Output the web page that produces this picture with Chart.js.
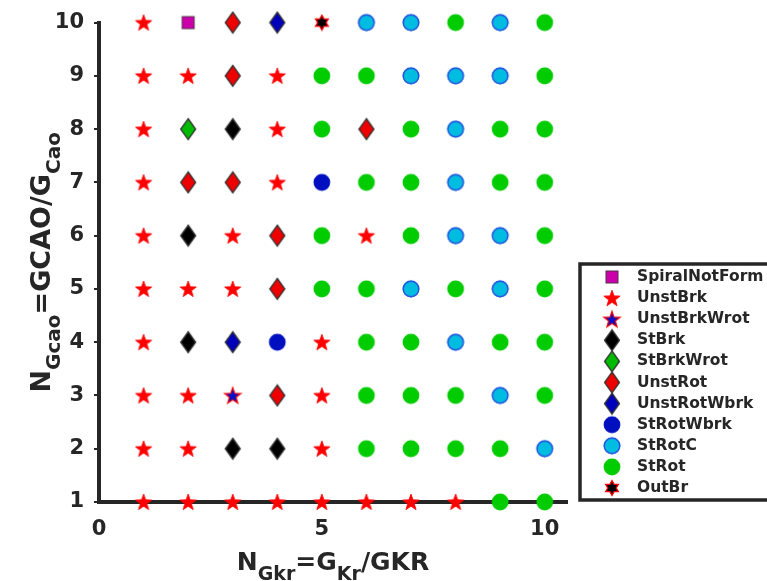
<!DOCTYPE html>
<html>
<head>
<meta charset="utf-8">
<script src="https://cdn.jsdelivr.net/npm/chart.js@4/dist/chart.umd.min.js"></script>
<style>
html,body{margin:0;padding:0;background:#fff;overflow:hidden}
#wrap{width:767px;height:581px;position:relative}
</style>
</head>
<body>
<div id="wrap"><canvas id="c" width="767" height="581"></canvas></div>
<script>
// ---- data ----
const categories = ['SpiralNotForm','UnstBrk','UnstBrkWrot','StBrk','StBrkWrot','UnstRot','UnstRotWbrk','StRotWbrk','StRotC','StRot','OutBr'];
const xValues = [1,2,3,4,5,6,7,8,9,10];          // N_Gkr
const yValues = [10,9,8,7,6,5,4,3,2,1];          // N_Gcao (row order)
const xTicks = [0,5,10];
const yTicks = [1,2,3,4,5,6,7,8,9,10];
// regime at each (x = 1..10) for a given y row
const row10 = ['UnstBrk','SpiralNotForm','UnstRot','UnstRotWbrk','OutBr','StRotC','StRotC','StRot','StRotC','StRot'];
const row9  = ['UnstBrk','UnstBrk','UnstRot','UnstBrk','StRot','StRot','StRotC','StRotC','StRotC','StRot'];
const row8  = ['UnstBrk','StBrkWrot','StBrk','UnstBrk','StRot','UnstRot','StRot','StRotC','StRot','StRot'];
const row7  = ['UnstBrk','UnstRot','UnstRot','UnstBrk','StRotWbrk','StRot','StRot','StRotC','StRot','StRot'];
const row6  = ['UnstBrk','StBrk','UnstBrk','UnstRot','StRot','UnstBrk','StRot','StRotC','StRotC','StRot'];
const row5  = ['UnstBrk','UnstBrk','UnstBrk','UnstRot','StRot','StRot','StRotC','StRot','StRotC','StRot'];
const row4  = ['UnstBrk','StBrk','UnstRotWbrk','StRotWbrk','UnstBrk','StRot','StRot','StRotC','StRot','StRot'];
const row3  = ['UnstBrk','UnstBrk','UnstBrkWrot','UnstRot','UnstBrk','StRot','StRot','StRot','StRotC','StRot'];
const row2  = ['UnstBrk','UnstBrk','StBrk','StBrk','UnstBrk','StRot','StRot','StRot','StRot','StRotC'];
const row1  = ['UnstBrk','UnstBrk','UnstBrk','UnstBrk','UnstBrk','UnstBrk','UnstBrk','UnstBrk','StRot','StRot'];
const rows = [row10,row9,row8,row7,row6,row5,row4,row3,row2,row1];

// ---- marker images ----
function mk(w,h,draw){const c=document.createElement('canvas');c.width=w;c.height=h;const g=c.getContext('2d');draw(g,w/2,h/2);return c;}
function starPath(g,cx,cy,n,R,r){g.beginPath();for(let i=0;i<2*n;i++){const a=-Math.PI/2+i*Math.PI/n;const rr=(i%2)?r:R;g.lineTo(cx+rr*Math.cos(a),cy+rr*Math.sin(a));}g.closePath();}
function diamond(fill){return mk(18,24,(g,cx,cy)=>{g.beginPath();g.moveTo(cx,cy-10.5);g.lineTo(cx+7.5,cy);g.lineTo(cx,cy+10.5);g.lineTo(cx-7.5,cy);g.closePath();g.fillStyle=fill;g.fill();g.lineWidth=1.3;g.strokeStyle='#333';g.stroke();});}
function circle(fill,stroke){return mk(20,20,(g,cx,cy)=>{g.beginPath();g.arc(cx,cy,8.4,0,Math.PI*2);g.fillStyle=fill;g.fill();if(stroke){g.lineWidth=1.4;g.strokeStyle=stroke;g.beginPath();g.arc(cx,cy,7.8,0,Math.PI*2);g.stroke();}});}
const markers = {
  SpiralNotForm: mk(16,16,(g,cx,cy)=>{g.fillStyle='#cc00aa';g.fillRect(cx-6,cy-6,12,12);g.lineWidth=1;g.strokeStyle='#50304a';g.strokeRect(cx-6,cy-6,12,12);}),
  UnstBrk: mk(20,20,(g,cx,cy)=>{starPath(g,cx,cy+0.7,5,8.6,3.5);g.fillStyle='#ff0000';g.fill();g.lineWidth=0.8;g.strokeStyle='#ff0000';g.stroke();}),
  UnstBrkWrot: mk(20,20,(g,cx,cy)=>{starPath(g,cx,cy+0.7,5,8.6,3.5);g.fillStyle='#0010cc';g.fill();g.lineWidth=1.2;g.strokeStyle='#ff0000';g.stroke();}),
  StBrk: diamond('#000000'),
  StBrkWrot: diamond('#00bb00'),
  UnstRot: diamond('#ee0000'),
  UnstRotWbrk: diamond('#0000bb'),
  StRotWbrk: circle('#0010c0',null),
  StRotC: circle('#00bce0','#2a4ee0'),
  StRot: circle('#00cc00',null),
  OutBr: mk(18,18,(g,cx,cy)=>{starPath(g,cx,cy,6,7.4,4.2);g.fillStyle='#000';g.fill();g.lineWidth=1.3;g.strokeStyle='#ff0000';g.stroke();})
};

// ---- datasets ----
const datasets = categories.map(cat=>({
  label: cat, data: [], pointStyle: markers[cat], pointRadius: 9, pointHoverRadius: 9,
  showLine: false, clip: false, backgroundColor: 'rgba(0,0,0,0)', borderColor: 'rgba(0,0,0,0)'
}));
rows.forEach((row,ri)=>row.forEach((cat,ci)=>{
  datasets[categories.indexOf(cat)].data.push({x:xValues[ci], y:yValues[ri]});
}));

const INK = '#262626';
const FONT = 'DejaVu Sans';

function drawRich(ctx, parts, mainSize, subSize, subDrop){
  let total = 0;
  const w = parts.map(p=>{ctx.font='bold '+(p.sub?subSize:mainSize)+'px "'+FONT+'"';const m=ctx.measureText(p.t).width;total+=m;return m;});
  let x = -total/2;
  parts.forEach((p,i)=>{ctx.font='bold '+(p.sub?subSize:mainSize)+'px "'+FONT+'"';ctx.fillText(p.t,x,p.sub?subDrop:0);x+=w[i];});
}

const xTitleParts = [{t:'N'},{t:'Gkr',sub:true},{t:'=G'},{t:'Kr',sub:true},{t:'/GKR'}];
const yTitleParts = [{t:'N'},{t:'Gcao',sub:true},{t:'=GCAO/G'},{t:'Cao',sub:true}];

const LEG_FONT = 15.5, LEG_PAD = 5.6, LEG_BOX = 34.5;

const customPlugin = {
  id: 'custom',
  beforeUpdate(chart){
    const lg = chart.legend;
    if(lg && !lg.__patched){
      const orig = lg.fit;
      lg.fit = function(){ orig.call(this); this.width = 200; };
      lg.__patched = true;
    }
  },
  afterLayout(chart){
    const lg = chart.legend;
    if(!lg) return;
    lg.left = 612 - LEG_PAD - LEG_BOX/2; lg.right = lg.left + 200;
    lg.top = 277 - LEG_PAD - LEG_FONT/2; lg.bottom = 581;
  },
  afterDraw(chart){
    const ctx = chart.ctx, ca = chart.chartArea;
    ctx.save();
    ctx.strokeStyle = INK; ctx.lineWidth = 3.5;
    ctx.strokeRect(580, 264, 230, 236);
    ctx.fillStyle = INK; ctx.textBaseline = 'alphabetic'; ctx.textAlign = 'left';
    ctx.save(); ctx.translate((ca.left+ca.right)/2, 570);
    drawRich(ctx, xTitleParts, 25, 19, 10);
    ctx.restore();
    ctx.save(); ctx.translate(50, (ca.top+ca.bottom)/2); ctx.rotate(-Math.PI/2);
    drawRich(ctx, yTitleParts, 27, 20, 10);
    ctx.restore();
    ctx.restore();
  }
};

new Chart(document.getElementById('c'), {
  type: 'scatter',
  data: { datasets },
  options: {
    responsive: false, animation: false, events: [],
    layout: { padding: { top: 21, left: 0, right: 0, bottom: 0 } },
    scales: {
      x: {
        type: 'linear', min: 0, max: 10.5,
        afterFit(s){ s.height = 79; },
        afterBuildTicks(s){ s.ticks = xTicks.map(v=>({value:v})); },
        grid: { display: false, drawTicks: false },
        border: { display: true, color: INK, width: 4 },
        ticks: { color: INK, padding: 15, font: { family: FONT, weight: 'bold', size: 21 }, maxRotation: 0 }
      },
      y: {
        type: 'linear', min: 1, max: 10,
        afterFit(s){ s.width = 99; },
        afterBuildTicks(s){ s.ticks = yTicks.map(v=>({value:v})); },
        grid: { display: true, drawOnChartArea: false, drawTicks: true, tickLength: 5, color: INK, lineWidth: 2 },
        border: { display: true, color: INK, width: 4 },
        ticks: { color: INK, padding: 10, font: { family: FONT, weight: 'bold', size: 21 } }
      }
    },
    plugins: {
      tooltip: { enabled: false },
      legend: {
        display: true, position: 'right', align: 'start', fullSize: false,
        labels: {
          usePointStyle: true, pointStyleWidth: LEG_BOX, padding: LEG_PAD, color: INK,
          font: { family: FONT, weight: 'bold', size: LEG_FONT }
        }
      }
    }
  },
  plugins: [customPlugin]
});
</script>
</body>
</html>
